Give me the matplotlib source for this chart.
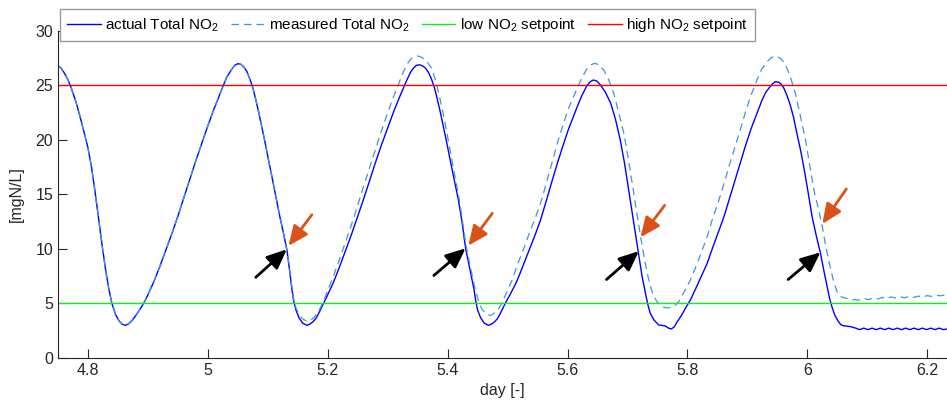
import matplotlib
matplotlib.use("Agg")
import matplotlib.pyplot as plt

plt.rcParams['font.family'] = ['Liberation Sans', 'DejaVu Sans']
plt.rcParams['mathtext.fontset'] = 'custom'
plt.rcParams['mathtext.rm'] = 'Liberation Sans'
plt.rcParams['mathtext.it'] = 'Liberation Sans'

# actual Total NO2
day_actual = [4.750, 4.755, 4.760, 4.766, 4.772, 4.780, 4.788, 4.795, 4.800, 4.806,
              4.812, 4.818, 4.824, 4.830, 4.835, 4.840, 4.846, 4.852, 4.857, 4.862,
              4.867, 4.873, 4.880, 4.886, 4.893, 4.900, 4.910, 4.920, 4.930, 4.940,
              4.950, 4.960, 4.970, 4.980, 4.990, 5.000, 5.010, 5.018, 5.025, 5.032,
              5.040, 5.045, 5.050, 5.055, 5.060, 5.065, 5.070, 5.075, 5.080, 5.085,
              5.090, 5.095, 5.100, 5.107, 5.1145, 5.120, 5.126, 5.132, 5.136, 5.140,
              5.1433, 5.147, 5.152, 5.158, 5.165, 5.170, 5.175, 5.180, 5.185, 5.193,
              5.200, 5.210, 5.220, 5.230, 5.240, 5.250, 5.260, 5.270, 5.280, 5.290,
              5.300, 5.310, 5.318, 5.325, 5.332, 5.338, 5.343, 5.348, 5.353, 5.358,
              5.363, 5.368, 5.373, 5.378, 5.383, 5.388, 5.393, 5.398, 5.403, 5.410,
              5.418, 5.424, 5.430, 5.437, 5.444, 5.447, 5.450, 5.455, 5.461, 5.468,
              5.473, 5.478, 5.483, 5.488, 5.496, 5.505, 5.516, 5.526, 5.536, 5.546,
              5.555, 5.565, 5.574, 5.583, 5.592, 5.601, 5.611, 5.618, 5.625, 5.633,
              5.638, 5.643, 5.649, 5.655, 5.663, 5.672, 5.680, 5.688, 5.695, 5.702,
              5.710, 5.718, 5.724, 5.730, 5.734, 5.738, 5.744, 5.752, 5.758, 5.763,
              5.768, 5.773, 5.778, 5.783, 5.790, 5.797, 5.805, 5.815, 5.824, 5.833,
              5.842, 5.852, 5.861, 5.870, 5.879, 5.888, 5.897, 5.906, 5.916, 5.924,
              5.931, 5.938, 5.943, 5.947, 5.952, 5.956, 5.961, 5.966, 5.971, 5.977,
              5.983, 5.989, 5.994, 6.001, 6.008, 6.015, 6.022, 6.028, 6.033, 6.037,
              6.041, 6.046, 6.052, 6.056, 6.060, 6.066, 6.072, 6.080, 6.087, 6.094,
              6.101, 6.108, 6.115, 6.122, 6.129, 6.136, 6.143, 6.150, 6.157, 6.164,
              6.171, 6.178, 6.185, 6.192, 6.199, 6.206, 6.213, 6.220, 6.227, 6.236]
no2_actual = [26.8, 26.6, 26.2, 25.6, 24.8, 23.5, 21.9, 20.4, 19.3, 17.5,
              15.2, 12.7, 10.2, 7.9, 6.3, 5.0, 4.0, 3.4, 3.1, 3.0,
              3.1, 3.4, 3.9, 4.4, 5.0, 5.8, 7.0, 8.4, 9.9, 11.4,
              13.0, 14.7, 16.4, 18.1, 19.7, 21.3, 22.8, 23.9, 24.9, 25.8,
              26.5, 26.85, 27.0, 26.95, 26.7, 26.3, 25.6, 24.8, 23.7, 22.5,
              21.2, 19.9, 18.5, 16.6, 14.5, 13.0, 11.5, 9.9, 8.2, 6.4,
              5.2, 4.4, 3.7, 3.2, 3.0, 3.1, 3.3, 3.6, 4.1, 5.0,
              5.8, 7.0, 8.4, 9.9, 11.4, 13.0, 14.6, 16.3, 18.0, 19.6,
              21.1, 22.6, 23.7, 24.6, 25.5, 26.2, 26.6, 26.85, 26.9, 26.8,
              26.6, 26.2, 25.6, 24.8, 23.7, 22.5, 21.2, 19.9, 18.5, 16.6,
              14.5, 12.5, 10.06, 8.2, 6.3, 5.2, 4.4, 3.7, 3.2, 3.0,
              3.1, 3.3, 3.6, 4.1, 5.0, 5.9, 7.1, 8.5, 9.9, 11.3,
              12.66, 14.5, 16.2, 17.86, 19.4, 20.9, 22.3, 23.3, 24.2, 25.05,
              25.35, 25.5, 25.4, 25.05, 24.4, 23.37, 21.9, 20.0, 17.9, 15.4,
              12.6, 9.75, 7.6, 5.93, 4.9, 4.10, 3.5, 3.03, 2.98, 2.94,
              2.75, 2.66, 2.85, 3.33, 3.9, 4.6, 5.32, 6.5, 7.6, 8.69,
              10.1, 11.6, 12.97, 14.6, 16.2, 17.86, 19.5, 21.0, 22.45, 23.6,
              24.4, 24.9, 25.2, 25.35, 25.3, 25.15, 24.74, 24.1, 23.3, 22.1,
              20.5, 19.0, 17.55, 15.3, 12.96, 11.2, 9.6, 7.9, 6.54, 5.5,
              4.7, 3.9, 3.33, 3.05, 2.96, 2.92, 2.88, 2.75, 2.6, 2.74,
              2.6, 2.74, 2.6, 2.74, 2.6, 2.74, 2.6, 2.74, 2.6, 2.74,
              2.6, 2.74, 2.6, 2.74, 2.6, 2.74, 2.6, 2.74, 2.6, 2.7]

# measured Total NO2
day_measured = [4.750, 4.755, 4.760, 4.766, 4.772, 4.780, 4.788, 4.795, 4.800, 4.806,
                4.812, 4.818, 4.824, 4.830, 4.835, 4.840, 4.846, 4.852, 4.857, 4.862,
                4.867, 4.873, 4.880, 4.886, 4.893, 4.900, 4.910, 4.920, 4.930, 4.940,
                4.950, 4.960, 4.970, 4.980, 4.990, 5.000, 5.010, 5.018, 5.025, 5.032,
                5.040, 5.045, 5.050, 5.055, 5.060, 5.065, 5.070, 5.075, 5.080, 5.085,
                5.090, 5.095, 5.100, 5.107, 5.1145, 5.120, 5.126, 5.132, 5.136, 5.140,
                5.1433, 5.147, 5.152, 5.158, 5.164, 5.170, 5.177, 5.185, 5.193, 5.200,
                5.210, 5.220, 5.230, 5.240, 5.250, 5.260, 5.270, 5.280, 5.290, 5.300,
                5.310, 5.318, 5.325, 5.332, 5.338, 5.344, 5.350, 5.356, 5.362, 5.368,
                5.373, 5.378, 5.383, 5.388, 5.393, 5.398, 5.403, 5.410, 5.418, 5.424,
                5.430, 5.437, 5.444, 5.450, 5.457, 5.465, 5.472, 5.480, 5.485, 5.490,
                5.500, 5.508, 5.516, 5.526, 5.536, 5.546, 5.555, 5.565, 5.574, 5.583,
                5.592, 5.601, 5.611, 5.618, 5.625, 5.633, 5.639, 5.6455, 5.652, 5.6606,
                5.668, 5.677, 5.685, 5.694, 5.701, 5.708, 5.715, 5.722, 5.728, 5.733,
                5.738, 5.744, 5.750, 5.758, 5.765, 5.772, 5.779, 5.7855, 5.795, 5.805,
                5.815, 5.824, 5.833, 5.842, 5.852, 5.861, 5.870, 5.879, 5.888, 5.897,
                5.906, 5.916, 5.924, 5.933, 5.940, 5.947, 5.955, 5.963, 5.971, 5.980,
                5.988, 5.997, 6.004, 6.011, 6.018, 6.0245, 6.031, 6.038, 6.044, 6.0505,
                6.057, 6.0645, 6.075, 6.0867, 6.095, 6.102, 6.110, 6.117, 6.125, 6.132,
                6.140, 6.147, 6.155, 6.162, 6.170, 6.177, 6.185, 6.192, 6.200, 6.207,
                6.215, 6.222, 6.230, 6.236]
no2_measured = [26.8, 26.6, 26.2, 25.6, 24.8, 23.5, 21.9, 20.4, 19.3, 17.5,
                15.2, 12.7, 10.2, 7.9, 6.3, 5.0, 4.0, 3.4, 3.1, 3.0,
                3.1, 3.4, 3.9, 4.4, 5.0, 5.8, 7.0, 8.4, 9.9, 11.4,
                13.0, 14.7, 16.4, 18.1, 19.7, 21.3, 22.8, 23.9, 24.9, 25.8,
                26.5, 26.85, 27.0, 26.95, 26.7, 26.3, 25.6, 24.8, 23.7, 22.5,
                21.2, 19.9, 18.5, 16.6, 14.5, 13.0, 11.5, 9.9, 8.3, 6.6,
                5.4, 4.6, 4.0, 3.6, 3.4, 3.4, 3.7, 4.3, 5.2, 6.2,
                7.6, 9.1, 10.7, 12.3, 14.0, 15.8, 17.5, 19.2, 20.9, 22.5,
                24.0, 25.1, 26.1, 26.9, 27.4, 27.65, 27.7, 27.6, 27.4, 27.0,
                26.6, 25.8, 24.8, 23.6, 22.3, 20.9, 19.4, 17.3, 15.0, 12.9,
                10.5, 8.6, 6.8, 5.5, 4.5, 4.0, 3.9, 4.2, 4.5, 5.0,
                6.2, 7.2, 8.5, 9.9, 11.4, 12.8, 14.2, 16.1, 17.9, 19.7,
                21.3, 22.8, 24.1, 25.0, 25.8, 26.6, 26.9, 27.03, 26.9, 26.4,
                25.6, 24.3, 22.6, 20.6, 18.4, 16.0, 13.5, 11.1, 9.2, 7.77,
                6.6, 5.63, 5.1, 4.71, 4.6, 4.62, 4.8, 5.17, 6.1, 7.16,
                8.5, 9.8, 11.13, 12.8, 14.4, 16.0, 17.7, 19.3, 20.9, 22.6,
                24.1, 25.5, 26.5, 27.2, 27.55, 27.7, 27.5, 27.0, 25.9, 24.3,
                22.3, 20.0, 17.7, 15.4, 13.8, 12.2, 10.2, 8.38, 7.0, 5.94,
                5.6, 5.47, 5.36, 5.32, 5.45, 5.35, 5.5, 5.4, 5.55, 5.45,
                5.6, 5.5, 5.62, 5.52, 5.65, 5.55, 5.68, 5.6, 5.72, 5.65,
                5.78, 5.7, 5.8, 5.75]

low_setpoint = 5
high_setpoint = 25

# annotation arrows: (tail day, tail value, head day, head value)
black_arrows = [(5.080, 7.4, 5.1317, 9.97), (5.377, 7.57, 5.430, 10.06),
                (5.665, 7.2, 5.719, 9.8), (5.968, 7.2, 6.022, 9.7)]
orange_arrows = [(5.1735, 13.14, 5.1345, 10.28), (5.4745, 13.27, 5.4345, 10.3),
                 (5.762, 14.0, 5.7217, 11.07), (6.065, 15.5, 6.025, 12.3)]

fig = plt.figure(figsize=(9.47, 4.13), dpi=100)
ax = fig.add_axes([0.0612, 0.1332, 0.9388, 0.7918])

ax.plot(day_actual, no2_actual, color='#0000FF', lw=1.0, label='actual Total NO$_2$')
ax.plot(day_measured, no2_measured, color='#3C96D8', lw=0.9, linestyle=(0, (6, 4)),
        label='measured Total NO$_2$')
ax.axhline(low_setpoint, color='#11EE11', lw=1.0, label='low NO$_2$ setpoint')
ax.axhline(high_setpoint, color='#FF0000', lw=1.0, label='high NO$_2$ setpoint')

for x0, y0, x1, y1 in black_arrows:
    ax.annotate('', xy=(x1, y1), xytext=(x0, y0),
                arrowprops=dict(arrowstyle='-|>,head_length=0.8,head_width=0.35',
                                color='black', lw=2, mutation_scale=15,
                                shrinkA=0, shrinkB=0))
for x0, y0, x1, y1 in orange_arrows:
    ax.annotate('', xy=(x1, y1), xytext=(x0, y0),
                arrowprops=dict(arrowstyle='-|>,head_length=0.8,head_width=0.35',
                                color='#D95319', lw=2, mutation_scale=15,
                                shrinkA=0, shrinkB=0))

ax.set_xlim(4.75, 6.233)
ax.set_ylim(0, 30)
ax.set_xticks([4.8, 5, 5.2, 5.4, 5.6, 5.8, 6, 6.2])
ax.set_xticklabels(['4.8', '5', '5.2', '5.4', '5.6', '5.8', '6', '6.2'])
ax.set_yticks([0, 5, 10, 15, 20, 25, 30])
ax.tick_params(direction='in', length=6.5, width=0.8, labelsize=11.5,
               colors='#262626')
ax.spines['top'].set_visible(False)
ax.spines['right'].set_visible(False)
for s in ['left', 'bottom']:
    ax.spines[s].set_color('#262626')
ax.set_xlabel('day [-]', fontsize=11.5, color='#262626', labelpad=4)
ax.set_ylabel('[mgN/L]', fontsize=11.5, color='#262626', labelpad=8)

leg = fig.legend(loc='upper left', bbox_to_anchor=(0.0634, 0.977),
                 bbox_transform=fig.transFigure, borderaxespad=0, ncol=4,
                 fontsize=11, handlelength=2.2, handletextpad=0.3,
                 columnspacing=0.8, borderpad=0.45, fancybox=False,
                 framealpha=1, edgecolor='#999999')
leg.get_frame().set_linewidth(1.0)

fig.savefig('out.png', dpi=100)
